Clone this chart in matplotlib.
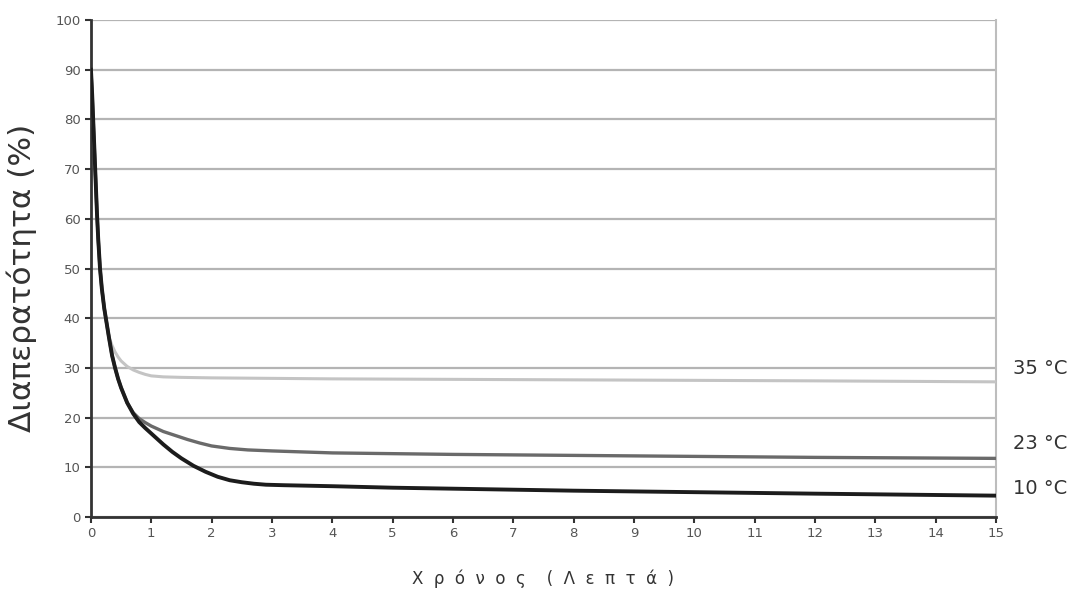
import numpy as np
import matplotlib.pyplot as plt

# curves (time in minutes, permeability in %)
t_10 = [0, 0.02, 0.04, 0.06, 0.08, 0.1, 0.12, 0.15, 0.18, 0.22, 0.26, 0.3, 0.35, 0.4,
        0.45, 0.5, 0.6, 0.7, 0.8, 0.9, 1.0, 1.1, 1.2, 1.35, 1.5, 1.7, 1.9, 2.0, 2.1,
        2.3, 2.5, 2.7, 2.9, 3.2, 4, 5, 6, 8, 10, 12, 15]
v_10 = [90, 85, 79, 73, 67, 61, 56, 50, 46, 42, 39, 36, 32.5, 30,
        27.8, 26, 23, 20.8, 19.1, 17.9, 16.8, 15.7, 14.6, 13.1, 11.8, 10.3, 9.1, 8.6, 8.1,
        7.4, 7.0, 6.7, 6.5, 6.4, 6.2, 5.9, 5.7, 5.3, 5.0, 4.7, 4.3]

t_23 = [0, 0.02, 0.04, 0.06, 0.08, 0.1, 0.12, 0.15, 0.18, 0.22, 0.26, 0.3, 0.35, 0.4,
        0.45, 0.5, 0.6, 0.7, 0.8, 0.9, 1.0, 1.2, 1.4, 1.6, 1.8, 2.0, 2.3, 2.6, 3.0,
        4, 6, 8, 10, 12, 15]
v_23 = [90, 85, 79, 73, 67, 61, 56, 50, 46, 42, 39, 36, 32.5, 30,
        27.8, 26, 23, 21.0, 19.8, 19.0, 18.3, 17.2, 16.4, 15.6, 14.9, 14.3, 13.8, 13.5, 13.3,
        12.9, 12.6, 12.4, 12.2, 12.0, 11.8]

t_35 = [0, 0.02, 0.04, 0.06, 0.08, 0.1, 0.12, 0.15, 0.18, 0.22, 0.26, 0.3, 0.35, 0.4,
        0.45, 0.5, 0.6, 0.7, 0.8, 0.9, 1.0, 1.2, 1.5, 2.0, 4, 6, 8, 10, 12, 15]
v_35 = [90, 85, 79, 73, 67, 61, 56, 50, 46, 42, 39, 36.2, 34.5, 33.2,
        32.2, 31.4, 30.3, 29.6, 29.1, 28.7, 28.4, 28.2, 28.1, 28.0, 27.8, 27.7, 27.6, 27.5, 27.4, 27.2]

labels = ['35 °C', '23 °C', '10 °C']
label_y = [29.8, 14.7, 5.8]

x_ticks = list(range(0, 16))
y_ticks = list(range(0, 101, 10))

fig = plt.figure(figsize=(10.79, 5.9), dpi=100)
ax = fig.add_axes([0.0843, 0.1237, 0.8387, 0.8423])

ax.plot(t_35, v_35, color='#c4c4c4', lw=2.2, zorder=3)
ax.plot(t_23, v_23, color='#6a6a6a', lw=2.4, zorder=4)
ax.plot(t_10, v_10, color='#1c1c1c', lw=2.8, zorder=5)

ax.set_xlim(0, 15)
ax.set_ylim(0, 100)
ax.set_xticks(x_ticks)
ax.set_yticks(y_ticks)
ax.yaxis.grid(True, color='#b4b4b4', lw=1.6)
ax.set_axisbelow(True)

for s in ['left', 'bottom']:
    ax.spines[s].set_color('#333333')
    ax.spines[s].set_linewidth(2)
ax.spines['top'].set_visible(False)
ax.spines['right'].set_color('#bdbdbd')
ax.spines['right'].set_linewidth(1.5)

ax.tick_params(axis='both', colors='#333333', labelcolor='#555555', labelsize=9.5,
               length=4, width=1.5)

for lab, yv in zip(labels, label_y):
    ax.text(15.28, yv, lab, fontsize=14, color='#333333', va='center', ha='left',
            clip_on=False)

ax.set_ylabel('Διαπερατότητα (%)', fontsize=22.5, color='#333333')
ax.yaxis.set_label_coords(-0.060, 0.481)
ax.set_xlabel('Χ  ρ  ό  ν  ο  ς    (  Λ  ε  π  τ  ά  )', fontsize=12, color='#333333',
              labelpad=21)

fig.savefig('out.png', dpi=100)
